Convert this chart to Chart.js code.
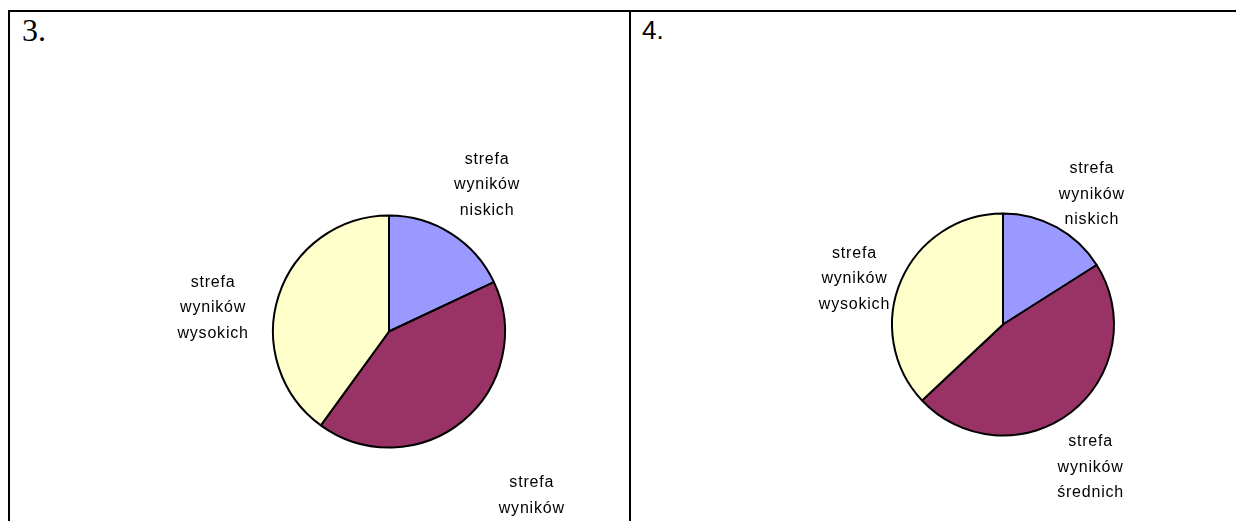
<!DOCTYPE html>
<html>
<head>
<meta charset="utf-8">
<script src="https://cdn.jsdelivr.net/npm/chart.js@4"></script>
<style>
    body { margin: 0; background: #fff; }
    #page { position: relative; width: 1236px; height: 521px; overflow: hidden; }
    .rule { position: absolute; background: #000; }
    .panel { position: absolute; top: 12px; height: 509px; }
    .num { position: absolute; color: #000; }
</style>
</head>
<body>
<div id="page">
    <div class="rule" style="left:8px;top:10px;width:1228px;height:2px"></div>
    <div class="rule" style="left:8px;top:10px;width:2px;height:511px"></div>
    <div class="rule" style="left:629px;top:10px;width:2px;height:511px"></div>

    <div class="num" style="left:22px;top:12px;font:32px 'Liberation Serif'">3.</div>
    <div class="num" style="left:642px;top:15px;font:26px 'Liberation Sans'">4.</div>

    <div class="panel" style="left:10px;width:619px"><canvas id="chart3" width="619" height="509"></canvas></div>
    <div class="panel" style="left:631px;width:605px"><canvas id="chart4" width="605" height="509"></canvas></div>
</div>

<script>
// zones, in slice order (clockwise from 12 o'clock)
const zoneLabels = [
    ["strefa", "wyników", "niskich"],
    ["strefa", "wyników", "średnich"],
    ["strefa", "wyników", "wysokich"]
]
const zoneColors = ["#9999FF", "#993366", "#FFFFCC"]

// share of results in each zone, %
const chart3Values = [18, 42, 40]
const chart4Values = [16, 47, 37]

//#region slice labels
// draws each slice's label outside the pie, on the slice's mid angle
const sliceLabels = {
    id: "sliceLabels",
    afterDatasetsDraw(chart, args, opts) {
        const ctx = chart.ctx
        const arcs = chart.getDatasetMeta(0).data
        ctx.save()
        ctx.font = "16px 'Liberation Sans'"
        ctx.letterSpacing = "0.8px"
        ctx.fillStyle = "#000"
        ctx.textAlign = "center"
        ctx.textBaseline = "middle"
        arcs.forEach((arc, i) => {
            const p = arc.getProps(["x", "y", "startAngle", "endAngle", "outerRadius"], true)
            const place = opts.place[i]
            const mid = (p.startAngle + p.endAngle) / 2 + place.shift * Math.PI / 180
            const cx = p.x + Math.cos(mid) * p.outerRadius * place.dist
            const cy = p.y + Math.sin(mid) * p.outerRadius * place.dist
            const lines = chart.data.labels[i]
            lines.forEach((line, n) => {
                ctx.fillText(line, cx, cy + (n - (lines.length - 1) / 2) * opts.lineHeight)
            })
        })
        ctx.restore()
    }
}
//#endregion

//#region ChartJs
CreatePie = (canvasId, values, radius, padding, place) => {
    new Chart(document.getElementById(canvasId), {
        type: "pie",
        data: {
            labels: zoneLabels,
            datasets: [{
                data: values,
                backgroundColor: zoneColors,
                borderColor: "#000",
                borderWidth: 2,
                radius
            }]
        },
        options: {
            responsive: false,
            animation: false,
            devicePixelRatio: 1,
            layout: { padding },
            plugins: {
                legend: { display: false },
                tooltip: { enabled: false },
                sliceLabels: { place, lineHeight: 25.5 }
            }
        },
        plugins: [sliceLabels]
    })
}

CreatePie("chart3", chart3Values, 116, { left: 139, top: 130, right: 0, bottom: 0 }, [
    { dist: 1.52, shift: 1.4 },
    { dist: 1.96, shift: 0.7 },
    { dist: 1.53, shift: -10.4 }
])

CreatePie("chart4", chart4Values, 111, { left: 139, top: 116, right: 0, bottom: 0 }, [
    { dist: 1.42, shift: 5.5 },
    { dist: 1.51, shift: 6.3 },
    { dist: 1.40, shift: -6.3 }
])
//#endregion
</script>
</body>
</html>
